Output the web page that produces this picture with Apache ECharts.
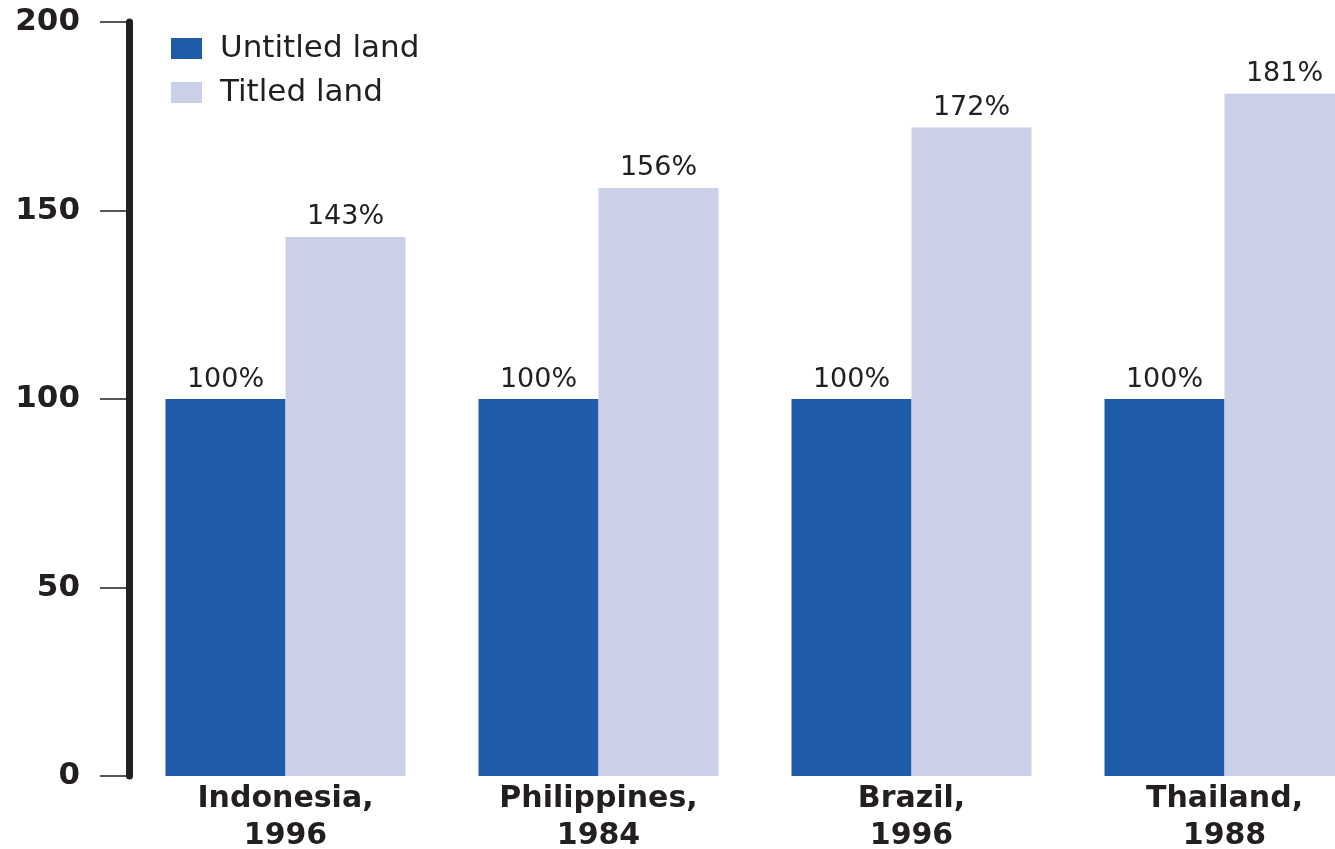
<!DOCTYPE html>
<html>
<head>
<meta charset="utf-8">
<script src="https://cdn.jsdelivr.net/npm/echarts@6/dist/echarts.min.js"></script>
<style>
html,body{margin:0;padding:0;background:#fff;}
#chart{width:1335px;height:849px;}
</style>
</head>
<body>
<div id="chart"></div>
<script>
const countries = ['Indonesia,', 'Philippines,', 'Brazil,', 'Thailand,'];
const years = ['1996', '1984', '1996', '1988'];
const untitled = [100, 100, 100, 100];
const titled = [143, 156, 172, 181];
const seriesNames = ['Untitled land', 'Titled land'];
const yTicks = [0, 50, 100, 150, 200];

const categories = countries.map((c, i) => c + '\n' + years[i]);
const textColor = '#231f20';
const font = 'DejaVu Sans';

const chart = echarts.init(document.getElementById('chart'));
chart.setOption({
  animation: false,
  backgroundColor: '#ffffff',
  textStyle: { fontFamily: font },
  legend: {
    orient: 'vertical',
    left: 166,
    top: 28,
    itemWidth: 31,
    itemHeight: 21,
    itemGap: 13,
    icon: 'rect',
    data: seriesNames,
    textStyle: {
      fontFamily: font,
      fontSize: 31,
      color: textColor,
      padding: [0, 0, 0, 13]
    }
  },
  grid: {
    left: 129, top: 22, bottom: 73, width: 1252,
    containLabel: false,
    outerBoundsMode: 'none'
  },
  xAxis: {
    type: 'category',
    data: categories,
    axisLine: { show: false },
    axisTick: { show: false },
    axisLabel: {
      fontFamily: font,
      fontWeight: 'bold',
      fontSize: 30,
      lineHeight: 37,
      color: textColor,
      margin: 5,
      interval: 0
    }
  },
  yAxis: {
    type: 'value',
    min: yTicks[0],
    max: yTicks[yTicks.length - 1],
    interval: 50,
    splitLine: { show: false },
    axisLine: { show: true, lineStyle: { color: textColor, width: 7 } },
    axisTick: { show: true, length: 29, lineStyle: { color: textColor, width: 1.5 } },
    axisLabel: {
      fontFamily: font,
      fontWeight: 'bold',
      fontSize: 31,
      color: textColor,
      margin: 49
    }
  },
  series: [
    {
      name: seriesNames[0],
      type: 'bar',
      data: untitled,
      barWidth: 120,
      barGap: '0%',
      itemStyle: { color: '#1e5ba8' },
      label: {
        show: true, position: 'top', distance: 6,
        formatter: '{c}%', fontFamily: font, fontSize: 27, color: textColor
      }
    },
    {
      name: seriesNames[1],
      type: 'bar',
      data: titled,
      barWidth: 120,
      barGap: '0%',
      itemStyle: { color: '#cbd0e9' },
      label: {
        show: true, position: 'top', distance: 6,
        formatter: '{c}%', fontFamily: font, fontSize: 27, color: textColor
      }
    }
  ]
});
</script>
</body>
</html>
